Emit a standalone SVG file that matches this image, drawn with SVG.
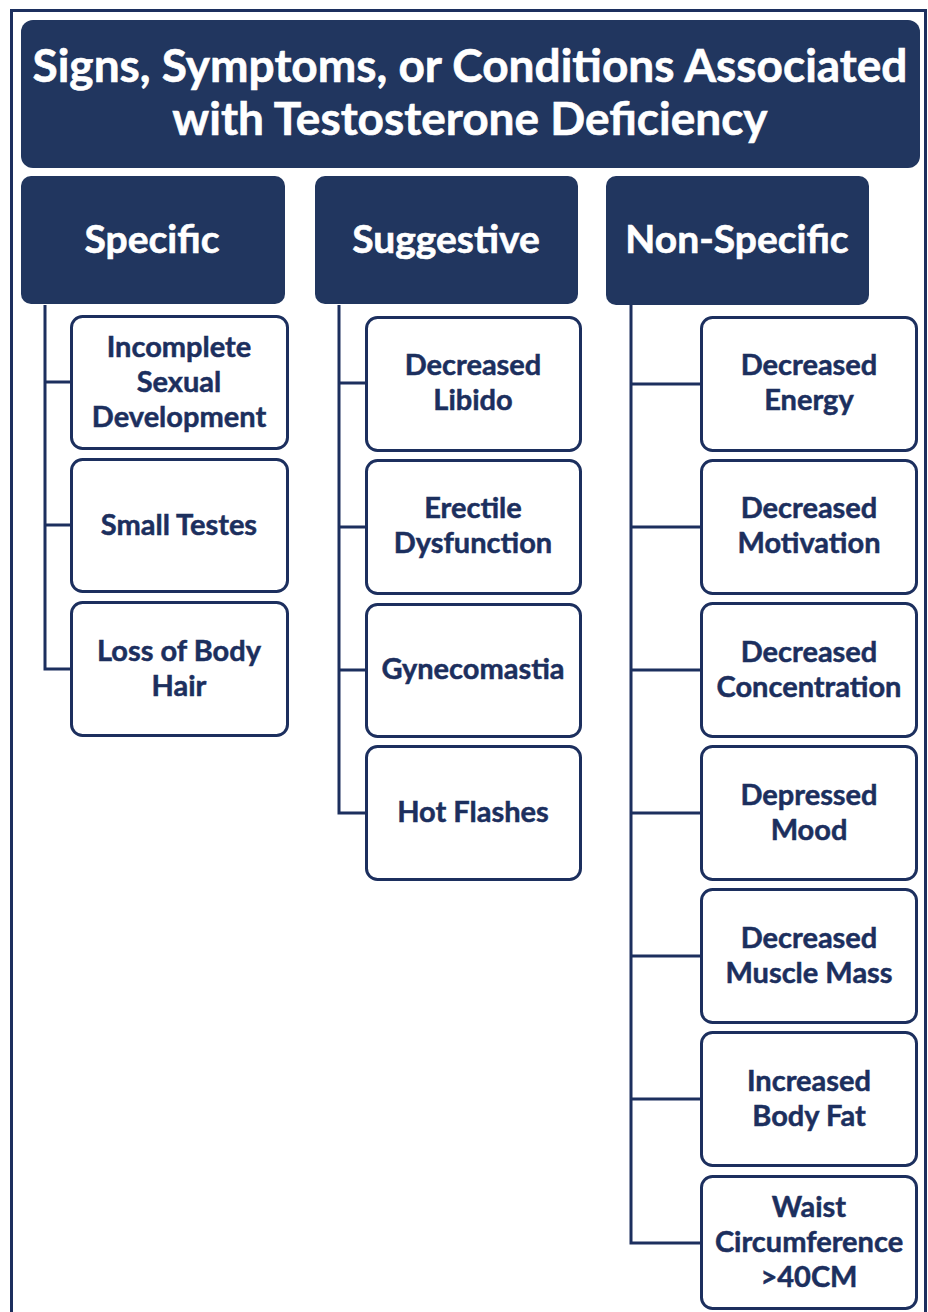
<svg xmlns="http://www.w3.org/2000/svg" width="928" height="1312" viewBox="0 0 928 1312">
<style>
.hdr{fill:#21365f;}
.box{fill:#ffffff;stroke:#1c2f5e;stroke-width:3;}
.ttl{font-family:Lato,"Liberation Sans",sans-serif;font-weight:bold;fill:#ffffff;stroke:#ffffff;stroke-width:0.6;text-anchor:middle;}
.lbl{font-family:Lato,"Liberation Sans",sans-serif;font-weight:bold;font-size:29px;fill:#1c2f5e;stroke:#1c2f5e;stroke-width:0.5;text-anchor:middle;}
.con{fill:none;stroke:#1c2f5e;stroke-width:3;}
</style>
<rect x="0" y="0" width="928" height="1312" fill="#ffffff"/>
<path d="M11.5 1312 V10.5 H925.5 V1312" fill="none" stroke="#1c2f5e" stroke-width="3"/>
<g id="title">
<rect class="hdr" x="21" y="20" width="899" height="148" rx="12"/>
<text class="ttl" x="470" y="82" font-size="46">Signs, Symptoms, or Conditions Associated</text>
<text class="ttl" x="470" y="135" font-size="46">with Testosterone Deficiency</text>
</g>
<g id="specific">
<rect class="hdr" x="21" y="176" width="264" height="128" rx="10"/>
<text class="ttl" x="152" y="253" font-size="39">Specific</text>
</g>
<g id="suggestive">
<rect class="hdr" x="315" y="176" width="263" height="128" rx="10"/>
<text class="ttl" x="446" y="253" font-size="39">Suggestive</text>
</g>
<g id="nonspecific">
<rect class="hdr" x="606" y="176" width="263" height="129" rx="10"/>
<text class="ttl" x="737" y="253" font-size="39">Non-Specific</text>
</g>
<g id="connectors">
<path class="con" d="M45 305 V669 H71 M45 382 H71 M45 525 H71"/>
<path class="con" d="M339 305 V813 H366 M339 383 H366 M339 527 H366 M339 670 H366"/>
<path class="con" d="M631 305 V1243 H701 M631 384 H701 M631 527 H701 M631 670 H701 M631 813 H701 M631 956 H701 M631 1099 H701"/>
</g>
<g id="incomplete">
<rect class="box" x="71.5" y="316.5" width="216" height="132" rx="11"/>
<text class="lbl" x="179" y="357">Incomplete</text>
<text class="lbl" x="179" y="392">Sexual</text>
<text class="lbl" x="179" y="427">Development</text>
</g>
<g id="small-testes">
<rect class="box" x="71.5" y="459.5" width="216" height="132" rx="11"/>
<text class="lbl" x="179" y="535">Small Testes</text>
</g>
<g id="loss-body-hair">
<rect class="box" x="71.5" y="602.5" width="216" height="133" rx="11"/>
<text class="lbl" x="179" y="661">Loss of Body</text>
<text class="lbl" x="179" y="696">Hair</text>
</g>
<g id="decreased-libido">
<rect class="box" x="366.5" y="317.5" width="214" height="133" rx="11"/>
<text class="lbl" x="473" y="375">Decreased</text>
<text class="lbl" x="473" y="410">Libido</text>
</g>
<g id="erectile">
<rect class="box" x="366.5" y="460.5" width="214" height="133" rx="11"/>
<text class="lbl" x="473" y="518">Erectile</text>
<text class="lbl" x="473" y="553">Dysfunction</text>
</g>
<g id="gynecomastia">
<rect class="box" x="366.5" y="604.5" width="214" height="132" rx="11"/>
<text class="lbl" x="473" y="679">Gynecomastia</text>
</g>
<g id="hot-flashes">
<rect class="box" x="366.5" y="746.5" width="214" height="133" rx="11"/>
<text class="lbl" x="473" y="822">Hot Flashes</text>
</g>
<g id="decreased-energy">
<rect class="box" x="701.5" y="317.5" width="215" height="133" rx="11"/>
<text class="lbl" x="809" y="375">Decreased</text>
<text class="lbl" x="809" y="410">Energy</text>
</g>
<g id="decreased-motivation">
<rect class="box" x="701.5" y="460.5" width="215" height="133" rx="11"/>
<text class="lbl" x="809" y="518">Decreased</text>
<text class="lbl" x="809" y="553">Motivation</text>
</g>
<g id="decreased-concentration">
<rect class="box" x="701.5" y="603.5" width="215" height="133" rx="11"/>
<text class="lbl" x="809" y="662">Decreased</text>
<text class="lbl" x="809" y="697">Concentration</text>
</g>
<g id="depressed-mood">
<rect class="box" x="701.5" y="746.5" width="215" height="133" rx="11"/>
<text class="lbl" x="809" y="805">Depressed</text>
<text class="lbl" x="809" y="840">Mood</text>
</g>
<g id="muscle-mass">
<rect class="box" x="701.5" y="889.5" width="215" height="133" rx="11"/>
<text class="lbl" x="809" y="948">Decreased</text>
<text class="lbl" x="809" y="983">Muscle Mass</text>
</g>
<g id="body-fat">
<rect class="box" x="701.5" y="1032.5" width="215" height="133" rx="11"/>
<text class="lbl" x="809" y="1091">Increased</text>
<text class="lbl" x="809" y="1126">Body Fat</text>
</g>
<g id="waist">
<rect class="box" x="701.5" y="1176.5" width="215" height="132" rx="11"/>
<text class="lbl" x="809" y="1217">Waist</text>
<text class="lbl" x="809" y="1252">Circumference</text>
<text class="lbl" x="809" y="1287">&gt;40CM</text>
</g>
</svg>
